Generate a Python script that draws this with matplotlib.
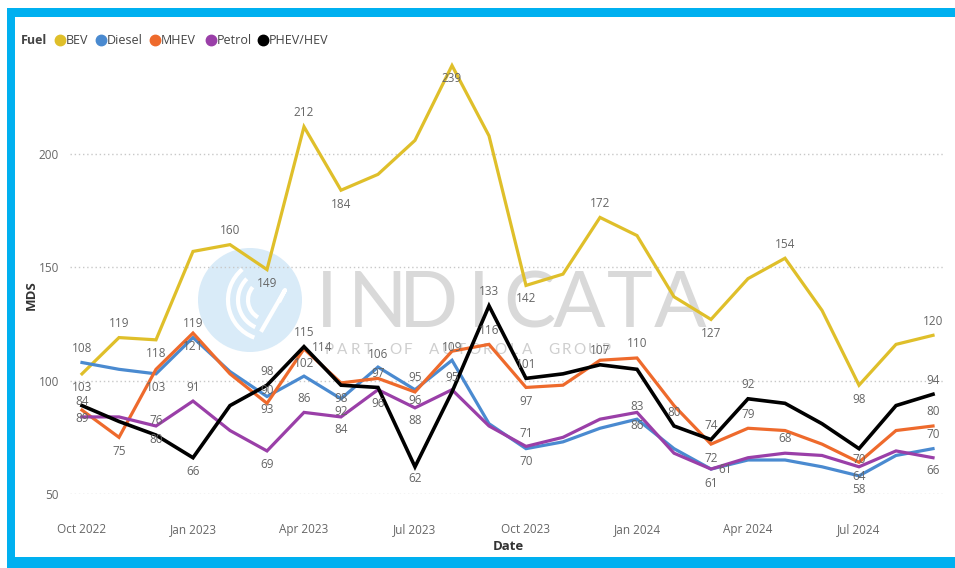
import matplotlib
matplotlib.use('Agg')
import matplotlib.pyplot as plt
from matplotlib.patches import Circle, Arc, Rectangle

plt.rcParams['font.family'] = ['Open Sans', 'DejaVu Sans']

# data: MDS by fuel type, Oct 2022 - Sep 2024
months = ['Oct 2022', 'Nov 2022', 'Dec 2022', 'Jan 2023', 'Feb 2023', 'Mar 2023',
          'Apr 2023', 'May 2023', 'Jun 2023', 'Jul 2023', 'Aug 2023', 'Sep 2023',
          'Oct 2023', 'Nov 2023', 'Dec 2023', 'Jan 2024', 'Feb 2024', 'Mar 2024',
          'Apr 2024', 'May 2024', 'Jun 2024', 'Jul 2024', 'Aug 2024', 'Sep 2024']
bev = [103, 119, 118, 157, 160, 149, 212, 184, 191, 206, 239, 208,
       142, 147, 172, 164, 137, 127, 145, 154, 131, 98, 116, 120]
diesel = [108, 105, 103, 119, 104, 93, 102, 92, 106, 96, 109, 81,
          70, 73, 79, 83, 70, 61, 65, 65, 62, 58, 67, 70]
mhev = [87, 75, 105, 121, 103, 90, 114, 99, 101, 95, 113, 116,
        97, 98, 109, 110, 89, 72, 79, 78, 72, 64, 78, 80]
petrol = [84, 84, 80, 91, 78, 69, 86, 84, 96, 88, 96, 80,
          71, 75, 83, 86, 68, 61, 66, 68, 67, 62, 69, 66]
phev = [89, 82, 76, 66, 89, 98, 115, 98, 97, 62, 95, 133,
        101, 103, 107, 105, 80, 74, 92, 90, 81, 70, 89, 94]

# which points carry a data label, and where the label sits (pixel offsets)
bev_lbl = {0: (0, -14), 1: (0, 14), 2: (0, -14), 4: (0, 14), 5: (0, -14), 6: (0, 14),
           7: (0, -14), 10: (0, -13), 12: (0, -13), 14: (0, 14), 17: (0, -14),
           19: (0, 14), 21: (0, -14), 23: (0, 14)}
diesel_lbl = {0: (0, 14), 2: (0, -14), 3: (0, 14), 5: (0, -13), 6: (0, 13), 7: (0, -13),
              8: (0, 13), 9: (0, -11), 10: (0, 13), 12: (0, -13), 15: (0, 13),
              17: (0, -14), 21: (0, -14), 23: (0, 14)}
mhev_lbl = {1: (0, -14), 3: (0, -13), 5: (0, 13), 6: (18, 1), 9: (0, 14), 11: (0, 14),
            12: (0, -14), 15: (0, 14), 17: (0, -14), 18: (0, 14), 21: (0, -14), 23: (0, 14)}
petrol_lbl = {0: (0, 15), 2: (0, -14), 3: (0, 14), 5: (0, -14), 6: (0, 14), 7: (0, -13),
              8: (0, -14), 9: (0, -13), 12: (0, 13), 15: (0, -13), 17: (14, 0),
              19: (0, 15), 23: (0, -13)}
phev_lbl = {0: (0, -13), 2: (0, 15), 3: (0, -14), 5: (0, 14), 6: (0, 14), 7: (0, -13),
            8: (0, 14), 9: (0, -12), 10: (0, 14), 11: (0, 14), 12: (0, 14), 14: (0, 14),
            16: (0, 13), 17: (0, 14), 18: (0, 14), 21: (0, -11), 23: (0, 14)}

series = [
    ('BEV', bev, '#dfbf2a', bev_lbl),
    ('Diesel', diesel, '#4a8ad0', diesel_lbl),
    ('MHEV', mhev, '#ee6a2c', mhev_lbl),
    ('Petrol', petrol, '#9a3fa8', petrol_lbl),
    ('PHEV/HEV', phev, '#000000', phev_lbl),
]

W, H = 955, 568
fig = plt.figure(figsize=(W / 100, H / 100), dpi=100)

# background layer in pixel coords: frame, watermark, legend
bg = fig.add_axes([0, 0, 1, 1], zorder=0)
bg.set_xlim(0, W)
bg.set_ylim(H, 0)
bg.axis('off')

frame = '#00b0f0'
bg.add_patch(Rectangle((7, 8), W - 7, 9, color=frame, lw=0))
bg.add_patch(Rectangle((7, 8), 8, H - 8, color=frame, lw=0))
bg.add_patch(Rectangle((7, 557), W - 7, 11, color=frame, lw=0))

# watermark logo + text
bg.add_patch(Circle((250, 300), 52, color='#d9ebf8', lw=0))
for r, t1, t2 in [(40, 110, 230), (30, 115, 225), (20, 120, 220)]:
    bg.add_patch(Arc((268, 300), 2 * r, 2 * r, theta1=t1, theta2=t2, color='white', lw=3))
bg.plot([262, 285, 280], [330, 290, 300], color='white', lw=3)
for i, ch in enumerate('INDICATA'):
    bg.text(327 + i * 50.5, 327, ch, fontsize=56, color='#d9d9d9', fontweight='normal',
            family=['Lato', 'DejaVu Sans'], ha='center', va='baseline')
for i, ch in enumerate('PART OF AUTOROLA GROUP'):
    bg.text(329 + i * 13.2, 354, ch, fontsize=11, color='#cfcfcf', fontweight='normal',
            family=['Lato', 'DejaVu Sans'], ha='center', va='baseline')

# legend
bg.text(21, 40, 'Fuel', fontsize=9, fontweight='bold', color='#444444', va='center')
leg_x = [60, 101, 155, 211, 263]
for (name, vals, col, lbl), lx in zip(series, leg_x):
    bg.plot(lx, 40, 'o', color=col, markersize=7.5)
    bg.text(lx + 6, 40, name, fontsize=9, color='#444444', va='center')

# main chart
ax = fig.add_axes([70 / W, 74 / H, 873 / W, 442 / H], zorder=1)
ax.patch.set_alpha(0)
x = list(range(len(months)))

for name, vals, col, lbl in series:
    ax.plot(x, vals, color=col, lw=2.3 if name != 'PHEV/HEV' else 2.6,
            solid_joinstyle='miter', zorder=2)

for name, vals, col, lbl in series:
    for i, (dx, dy) in lbl.items():
        ax.annotate(str(vals[i]), (x[i], vals[i]), xytext=(dx, dy), textcoords='offset pixels',
                    ha='center', va='center', fontsize=8.5, color='#666666', zorder=5)

ax.set_xlim(-0.324, 23.27)
ax.set_ylim(50, 50 + 442 / 2.267)
ax.set_yticks([50, 100, 150, 200])
ax.set_xticks(x[::3])
ax.set_xticklabels(months[::3])
ax.tick_params(axis='both', length=0, colors='#666666', labelsize=8.5)
ax.tick_params(axis='x', pad=21)
ax.tick_params(axis='y', pad=8)
ax.grid(axis='y', color='#c8c8c8', linestyle=(0, (1, 2)), lw=1)
ax.set_axisbelow(True)
for s in ax.spines.values():
    s.set_visible(False)

fig.text(508 / W, 1 - 547 / H, 'Date', fontsize=9.5, fontweight='bold', color='#333333',
         ha='center', va='center')
fig.text(31 / W, 1 - 295 / H, 'MDS', fontsize=9.5, fontweight='bold', color='#333333',
         ha='center', va='center', rotation=90)

fig.savefig('out.png', dpi=100)
